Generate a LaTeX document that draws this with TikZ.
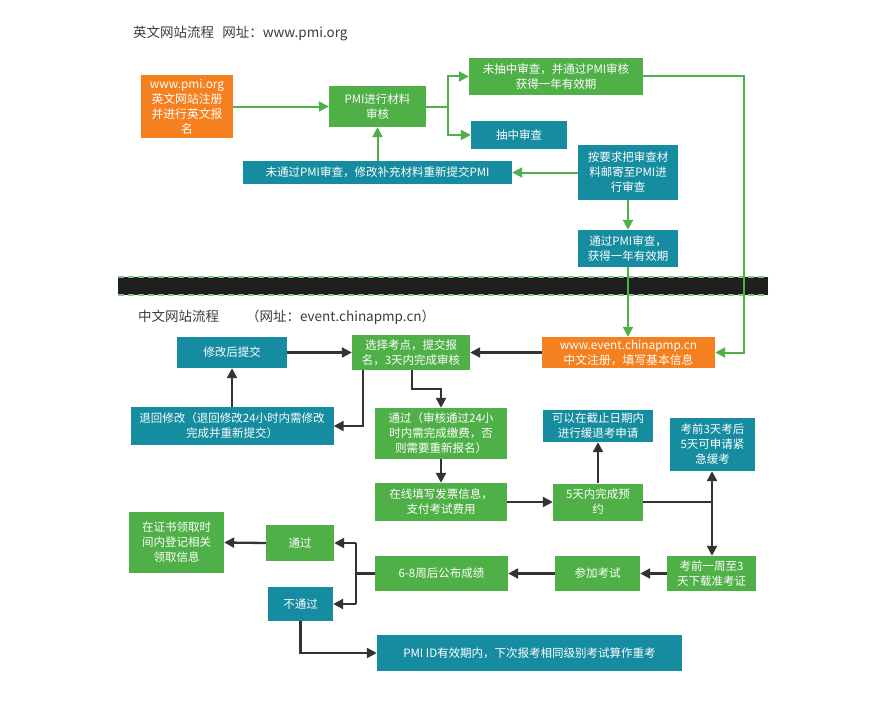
\documentclass[tikz,border=0pt]{standalone}
\usepackage{fontspec}
\setmainfont{Noto Sans CJK SC}
\usetikzlibrary{arrows.meta}
\definecolor{gbox}{RGB}{80,176,72}
\definecolor{tbox}{RGB}{22,140,160}
\definecolor{obox}{RGB}{245,128,32}
\definecolor{dline}{RGB}{51,51,51}
\definecolor{titlec}{RGB}{60,60,60}
\tikzset{
  bx/.style={inner sep=0pt, text=white, align=center, font=\fontsize{11.5}{15}\selectfont},
  gb/.style={bx, fill=gbox},
  tb/.style={bx, fill=tbox},
  ob/.style={bx, fill=obox, font=\fontsize{11.8}{15}\selectfont},
  garr/.style={draw=gbox, line width=2pt, -{Triangle[length=10pt,width=10pt]}},
  gline/.style={draw=gbox, line width=2pt},
  darr/.style={draw=dline, line width=2.3pt, -{Triangle[length=10pt,width=10pt]}},
  dline/.style={draw=dline, line width=2.3pt},
  ttl/.style={inner sep=0pt, anchor=west, text=titlec, font=\fontsize{13.5}{16}\selectfont}
}
\newcommand{\bxn}[6]{\node[#1, minimum width=#4pt, minimum height=#5pt] (#6) at (#2,#3)}
\begin{document}
\begin{tikzpicture}[x=1pt,y=-1pt]
\useasboundingbox (0,0) rectangle (889,709);
\fill[white] (0,0) rectangle (889,709);

% titles
\node[ttl] (t1) at (133,33) {英文网站流程\hspace{0.6em}网址：www.pmi.org};
\node[ttl] (t2) at (138,317) {中文网站流程\hspace{2em}（网址：event.chinapmp.cn）};

% band
\fill[black!88] (118,277) rectangle (768,295);
\draw[gbox!70, line width=1.5pt, dash pattern=on 6pt off 4pt] (118,277) -- (768,277);
\draw[gbox!70, line width=1.5pt, dash pattern=on 6pt off 4pt] (118,295) -- (768,295);

% top part
\bxn{ob}{187}{106.5}{92}{63}{o1} {www.pmi.org\\英文网站注册\\并进行英文报\\名};
\bxn{gb}{377.5}{106.5}{97}{41}{rev} {PMI进行材料\\审核};
\bxn{gb}{556}{76.5}{174}{37}{notsel} {未抽中审查，并通过PMI审核\\获得一年有效期};
\bxn{tb}{519}{135}{96}{28}{sel} {抽中审查};
\bxn{tb}{628}{172.5}{100}{55}{mail} {按要求把审查材\\料邮寄至PMI进\\行审查};
\bxn{tb}{377.5}{172.5}{269}{23}{fail} {未通过PMI审查，修改补充材料重新提交PMI};
\bxn{tb}{628}{248.5}{100}{37}{passpmi} {通过PMI审查，\\获得一年有效期};

% bottom part
\bxn{ob}{628.5}{352.5}{173}{31}{o2} {www.event.chinapmp.cn\\中文注册，填写基本信息};
\bxn{gb}{411}{352.5}{118}{35}{choose} {选择考点，提交报\\名，3天内完成审核};
\bxn{tb}{232}{352.5}{110}{31}{resub} {修改后提交};
\bxn{tb}{232}{426}{203}{38}{ret} {退回修改（退回修改24小时内需修改\\完成并重新提交）};
\bxn{gb}{441}{433.5}{132}{51}{pass1} {通过（审核通过24小\\时内需完成缴费，否\\则需要重新报名）};
\bxn{gb}{441}{502}{132}{38}{online} {在线填写发票信息，\\支付考试费用};
\bxn{gb}{598}{502}{90}{37}{five} {5天内完成预\\约};
\bxn{tb}{598}{426}{110}{32}{defer} {可以在截止日期内\\进行缓退考申请};
\bxn{tb}{712.5}{444.5}{85}{53}{urgent} {考前3天考后\\5天可申请紧\\急缓考};
\bxn{gb}{711.5}{573.5}{89}{35}{admit} {考前一周至3\\天下载准考证};
\bxn{gb}{597.5}{573.5}{85}{35}{exam} {参加考试};
\bxn{gb}{441.5}{573.5}{133}{35}{score} {6-8周后公布成绩};
\bxn{gb}{300}{543}{68}{36}{passed} {通过};
\bxn{tb}{300.5}{604}{65}{34}{failed} {不通过};
\bxn{gb}{176.5}{542.5}{95}{61}{cert} {在证书领取时\\间内登记相关\\领取信息};
\bxn{tb}{529.5}{653}{305}{36}{pmiid} {PMI ID有效期内，下次报考相同级别考试算作重考};

% coordinates
\coordinate (b1) at (448,106.5);
\coordinate (c1) at (744,76.5);
\coordinate (c2) at (744,352.5);
\coordinate (d1) at (363,426);
\coordinate (d2) at (412,389);
\coordinate (d3) at (441,389);
\coordinate (e1) at (712,502);
\coordinate (f1) at (356,573.5);
\coordinate (f2) at (356,543);
\coordinate (f3) at (356,604);
\coordinate (g1) at (300.5,653);

% green connectors
\draw[garr] (o1.east) -- (rev.west);
\draw[gline] (rev.east) -- (b1);
\draw[garr] (b1) |- (notsel.west);
\draw[garr] (b1) |- (sel.west);
\draw[garr] (notsel.east) -- (c1) -- (c2) -- (o2.east);
\draw[garr] (mail.west) -- (fail.east);
\draw[garr] (fail.north) -- (rev.south);
\draw[garr] (mail.south) -- (passpmi.north);
\draw[garr] (passpmi.south) -- (passpmi.south |- o2.north);

% dark connectors
\draw[darr] (o2.west) -- (choose.east);
\draw[darr] (resub.east) -- (choose.west);
\draw[darr] (ret.north) -- (resub.south);
\draw[darr] (d1 |- choose.south) -- (d1) -- (ret.east);
\draw[darr] (d2 |- choose.south) -- (d2) -- (d3) -- (pass1.north);
\draw[darr] (pass1.south) -- (online.north);
\draw[darr] (online.east) -- (five.west);
\draw[darr] (five.north) -- (defer.south);
\draw[dline] (five.east) -- (e1);
\draw[darr] (e1) -- (e1 |- urgent.south);
\draw[darr] (e1) -- (e1 |- admit.north);
\draw[darr] (admit.west) -- (exam.east);
\draw[darr] (exam.west) -- (score.east);
\draw[dline] (score.west) -- (f1);
\draw[dline] (f2) -- (f3);
\draw[darr] (f2) -- (passed.east);
\draw[darr] (f3) -- (failed.east);
\draw[darr] (passed.west) -- (cert.east);
\draw[darr] (failed.south) -- (g1) -- (pmiid.west);
\end{tikzpicture}
\end{document}
